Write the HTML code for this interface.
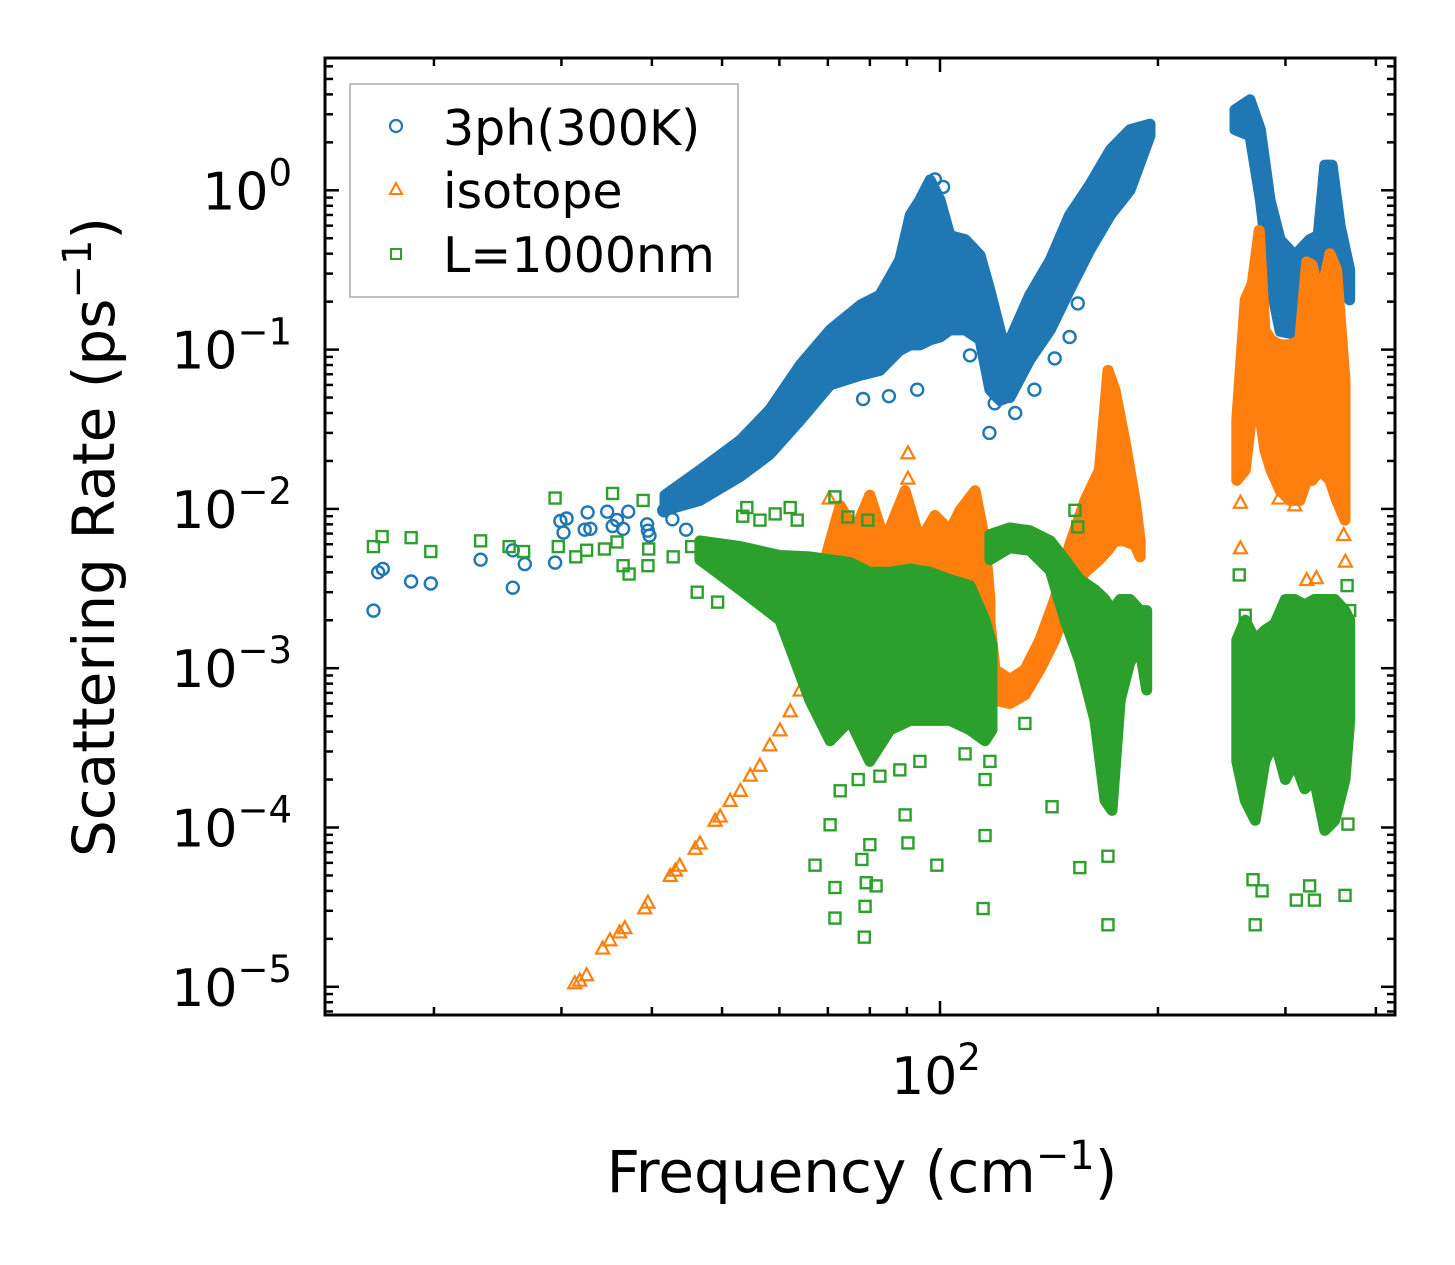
<!DOCTYPE html>
<html><head><meta charset="utf-8"><style>
html,body{margin:0;padding:0;background:#fff;}
svg{display:block;font-family:"DejaVu Sans","Liberation Sans",sans-serif;}
</style></head><body>
<svg id="chart" width="1455" height="1265" viewBox="0 0 1455 1265" xmlns="http://www.w3.org/2000/svg">
<rect width="1455" height="1265" fill="#fff"/>
<g id="marks"></g>
<g id="axes"></g>
<text x="862" y="1192" font-size="58" text-anchor="middle">Frequency (cm<tspan font-size="40" dy="-23">−1</tspan><tspan dy="23">)</tspan></text>
<text transform="translate(114,537) rotate(-90)" font-size="58" text-anchor="middle">Scattering Rate (ps<tspan font-size="40" dy="-23">−1</tspan><tspan dy="23">)</tspan></text>
<g>
<rect x="350" y="84" width="388" height="213" fill="#fff" stroke="#aaa" stroke-width="1.5"/>
<circle cx="396" cy="126" r="6" fill="none" stroke="#1f77b4" stroke-width="2.2"/>
<text x="443" y="145" font-size="49">3ph(300K)</text>
<polygon points="396,183 402,194 390,194" fill="none" stroke="#ff7f0e" stroke-width="2"/>
<text x="443" y="208" font-size="49">isotope</text>
<rect x="391" y="249" width="10" height="10" fill="none" stroke="#2ca02c" stroke-width="2"/>
<text x="443" y="272" font-size="49">L=1000nm</text>
</g>
</svg>
<script>
// ---- data (frequency cm^-1, rate ps^-1) ----
const blueBandAF=[41.7,46.6,53,58.2,64.1,70.5,77.6,82.6,88,91,93.8,96.9,100,103.2,108.4,113.6,117.2,121,124];
const blueBandAHi=[0.0122,0.0175,0.027,0.042,0.080,0.133,0.19,0.22,0.365,0.70,0.87,1.16,0.87,0.52,0.49,0.39,0.236,0.133,0.086];
const blueBandALo=[0.0098,0.0113,0.016,0.022,0.036,0.060,0.069,0.074,0.099,0.107,0.107,0.115,0.12,0.133,0.133,0.115,0.056,0.048,0.050];
const blueBandBF=[124.9,133,142,151,161,172,183,195];
const blueBandBHi=[0.115,0.22,0.365,0.70,1.08,1.8,2.4,2.6];
const blueBandBLo=[0.050,0.086,0.133,0.236,0.42,0.70,1.0,2.2];
const blueBandCF=[255.5,268,277,285.6,295,309,324,333,340,348,357,368];
const blueBandCHi=[3.2,3.7,2.4,0.87,0.49,0.39,0.49,0.52,1.44,1.44,0.6,0.316];
const blueBandCLo=[2.4,2.2,0.87,0.27,0.13,0.125,0.15,0.177,0.177,0.316,0.236,0.205];
const bluePtF=[16.5,16.75,17.0,18.6,19.8,23.2,25.7,25.7,26.7,29.4,29.9,30.2,30.5,32.3,32.6,32.9,34.7,35.3,35.8,36.5,37.1,39.4,39.7,39.5,41.6,42.7,44.6,78.3,85,93,117,127,110,119,135,144,151,155,98.4,101];
const bluePtV=[0.0023,0.0040,0.0042,0.0035,0.0034,0.0048,0.0032,0.0055,0.0045,0.0046,0.0084,0.0071,0.0087,0.0074,0.0095,0.0075,0.0096,0.0078,0.0085,0.0075,0.0096,0.0080,0.0068,0.0073,0.0098,0.0086,0.0074,0.049,0.051,0.056,0.030,0.040,0.092,0.046,0.056,0.088,0.12,0.195,1.17,1.05];

const orangeBandAF=[66.1,69.4,72.8,76.3,80,83.9,89.5,93.8,98.4,103.2,106.6,111.8,115.4,117.2];
const orangeBandAHi=[0.0015,0.0048,0.0105,0.0073,0.0122,0.0063,0.013,0.0063,0.0091,0.0073,0.0098,0.013,0.0063,0.0027];
const orangeBandALo=[0.00085,0.0013,0.0020,0.0027,0.0031,0.0036,0.0036,0.0036,0.0036,0.0033,0.0031,0.0027,0.002,0.0015];
const orangeBandBF=[116.4,119.1,124.9,131,137.4,144,151,158.6,166,170.6,174.4,180,186,189];
const orangeBandBHi=[0.0027,0.00098,0.00085,0.00098,0.0015,0.0027,0.0059,0.0113,0.0175,0.074,0.056,0.027,0.0113,0.0063];
const orangeBandBLo=[0.0017,0.00063,0.0006,0.00068,0.00098,0.0015,0.0027,0.0040,0.0048,0.0055,0.0063,0.0063,0.0059,0.0050];
const orangeBandCF=[257,264,270,276,281,286.6,295,304.4,314,321,326.5,335,345.6,353,362.6];
const orangeBandCHi=[0.036,0.205,0.26,0.56,0.133,0.115,0.107,0.107,0.115,0.355,0.34,0.205,0.40,0.316,0.064];
const orangeBandCLo=[0.0151,0.0175,0.042,0.042,0.0234,0.0175,0.013,0.0113,0.0113,0.0151,0.0151,0.0175,0.0151,0.0113,0.0085];
const orangePtF=[31.3,31.8,32.5,34.2,35.0,36.1,36.7,39.1,39.5,42.4,43.1,43.7,45.9,46.6,48.9,49.7,51.3,53.0,54.7,56.4,58.2,60.1,62.1,64.1,66.1,70.3,90.3,90.3,116.4,260,260,294,309,321,331,363,361];
const orangePtV=[1.06e-5,1.10e-5,1.19e-5,1.75e-5,1.97e-5,2.21e-5,2.35e-5,3.13e-5,3.4e-5,5.0e-5,5.4e-5,5.8e-5,7.4e-5,8.0e-5,1.11e-4,1.18e-4,1.48e-4,1.71e-4,2.13e-4,2.46e-4,3.3e-4,4.1e-4,5.4e-4,7.3e-4,1.04e-3,0.0117,0.0225,0.0156,0.00173,0.0057,0.011,0.0117,0.0106,0.0036,0.0037,0.0047,0.0069];

const greenBandAF=[46.6,53,60.1,66.1,70.5,75.1,80,85.3,91,96.9,103.2,110,115.4,118];
const greenBandAHi=[0.0063,0.0058,0.0051,0.0050,0.0048,0.0046,0.0040,0.0040,0.0042,0.0040,0.0036,0.0033,0.0020,0.0014];
const greenBandALo=[0.0048,0.0031,0.0020,0.00063,0.00035,0.00047,0.00026,0.00041,0.00047,0.00047,0.00047,0.00041,0.00035,0.00041];
const greenBandBF=[117.2,124.9,133,142,148.8,156,163.7,169,172.8,177.4,183,189,193];
const greenBandBHi=[0.0069,0.0076,0.0073,0.0063,0.0048,0.0036,0.0031,0.0027,0.0023,0.0027,0.0027,0.0023,0.0023];
const greenBandBLo=[0.0048,0.0057,0.0055,0.0041,0.0020,0.0011,0.00047,0.000148,0.000128,0.00063,0.0011,0.0013,0.00073];
const greenBandCF=[257,264,272.5,281,290,300,309,319,329,340,351,362.6,368];
const greenBandCHi=[0.0015,0.0020,0.0015,0.00173,0.0019,0.0027,0.0027,0.0025,0.0027,0.0027,0.0027,0.0023,0.0020];
const greenBandCLo=[0.00026,0.000148,0.000111,0.00026,0.00035,0.0002,0.00026,0.000175,0.0002,9.6e-5,0.000111,0.0002,0.00047];
const greenPtF=[16.5,16.96,18.6,19.8,23.2,25.4,26.6,29.4,29.7,31.4,32.5,35.3,34.4,35.8,36.5,37.2,38.9,39.5,39.6,42.8,45.4,46.2,49.3,54.1,53.4,62.1,63.5,67.2,70.5,71.6,71.6,78,79.1,78.6,78.8,80,81.6,89.5,90.3,99,114.7,115.4,131,142.8,156,170.6,170.6,270.6,272.5,278.5,310.6,324,329,362.6,366,259,264,368,365,71.6,74.6,79.5,56.4,59.2,139.6,153.6,155,72.8,77.1,82.6,88,93.8,108.3,115.4,117.2];
const greenPtV=[0.0058,0.0067,0.0066,0.0054,0.0063,0.0058,0.0054,0.0117,0.0058,0.0050,0.0055,0.0125,0.0056,0.0062,0.0044,0.0039,0.0113,0.0044,0.0056,0.0050,0.0058,0.0030,0.0026,0.0102,0.0090,0.0102,0.0085,5.8e-5,1.04e-4,4.2e-5,2.7e-5,6.3e-5,4.5e-5,2.05e-5,3.2e-5,7.8e-5,4.3e-5,1.2e-4,8.0e-5,5.8e-5,3.1e-5,8.9e-5,4.5e-4,1.35e-4,5.6e-5,2.45e-5,6.6e-5,4.7e-5,2.45e-5,4.0e-5,3.5e-5,4.3e-5,3.5e-5,3.75e-5,1.05e-4,0.00385,0.00215,0.0023,0.0033,0.0119,0.0089,0.0085,0.0085,0.0093,0.0059,0.0098,0.0077,1.7e-4,2.0e-4,2.1e-4,2.3e-4,2.6e-4,2.9e-4,2.0e-4,2.6e-4];

const xMajorTicks=[100];
const xMinorTicks=[20,30,40,50,60,70,80,90,200,300,400];
const yMajorExps=[0,-1,-2,-3,-4,-5];

// ---- scales ----
const X0=325,X1=1395,Y0=58,Y1=1015;
function X(f){return 940+724*Math.log10(f/100);}
function Y(v){return 190.3-159.3*Math.log10(v);}
const NS="http://www.w3.org/2000/svg";
const marks=document.getElementById('marks');
const axes=document.getElementById('axes');
function mk(tag,attrs,parent){const e=document.createElementNS(NS,tag);for(const k in attrs)e.setAttribute(k,attrs[k]);parent.appendChild(e);return e;}

const COL={blue:'#1f77b4',orange:'#ff7f0e',green:'#2ca02c'};
function band(F,Hi,Lo,color,name){
  const pts=[];
  for(let i=0;i<F.length;i++)pts.push(X(F[i]).toFixed(1)+','+Y(Hi[i]).toFixed(1));
  for(let i=F.length-1;i>=0;i--)pts.push(X(F[i]).toFixed(1)+','+Y(Lo[i]).toFixed(1));
  const p=mk('polygon',{points:pts.join(' '),fill:color,stroke:color,'stroke-width':11,'stroke-linejoin':'round'},marks);
  
  
}
function circles(F,V,name){
  for(let i=0;i<F.length;i++){
    const c=mk('circle',{cx:X(F[i]).toFixed(1),cy:Y(V[i]).toFixed(1),r:6,fill:'none',stroke:COL.blue,'stroke-width':2.4},marks);
    
    
  }
}
function tris(F,V,name){
  for(let i=0;i<F.length;i++){
    const x=X(F[i]),y=Y(V[i]);
    const t=mk('polygon',{points:`${x},${y-6.5} ${x+6.5},${y+5.5} ${x-6.5},${y+5.5}`,fill:'none',stroke:COL.orange,'stroke-width':2.2},marks);
    
    
  }
}
function squares(F,V,name){
  for(let i=0;i<F.length;i++){
    const x=X(F[i]),y=Y(V[i]);
    const s=mk('rect',{x:x-5.5,y:y-5.5,width:11,height:11,fill:'none',stroke:COL.green,'stroke-width':2.4},marks);
    
    
  }
}
band(blueBandAF,blueBandAHi,blueBandALo,COL.blue,'3ph-band-low');
band(blueBandBF,blueBandBHi,blueBandBLo,COL.blue,'3ph-band-mid');
band(blueBandCF,blueBandCHi,blueBandCLo,COL.blue,'3ph-band-high');
circles(bluePtF,bluePtV,'3ph-point');
band(orangeBandAF,orangeBandAHi,orangeBandALo,COL.orange,'isotope-band-low');
band(orangeBandBF,orangeBandBHi,orangeBandBLo,COL.orange,'isotope-band-mid');
band(orangeBandCF,orangeBandCHi,orangeBandCLo,COL.orange,'isotope-band-high');
tris(orangePtF,orangePtV,'isotope-point');
band(greenBandAF,greenBandAHi,greenBandALo,COL.green,'boundary-band-low');
band(greenBandBF,greenBandBHi,greenBandBLo,COL.green,'boundary-band-mid');
band(greenBandCF,greenBandCHi,greenBandCLo,COL.green,'boundary-band-high');
squares(greenPtF,greenPtV,'boundary-point');

// ---- axes ----
const frame=mk('rect',{x:X0,y:Y0,width:X1-X0,height:Y1-Y0,fill:'none',stroke:'#000','stroke-width':3},axes);


function line(x1,y1,x2,y2,name){
  const l=mk('line',{x1,y1,x2,y2,stroke:'#000','stroke-width':2.5},axes);
  
  
}
xMajorTicks.forEach(f=>{
  const x=X(f);
  line(x,Y1,x,Y1-14,'x-major-tick');line(x,Y0,x,Y0+14,'x-major-tick-top');
  const t=mk('text',{x:x-4,y:1094,'font-size':52,'text-anchor':'middle'},axes);
  
  
  t.innerHTML='10<tspan font-size="37" dy="-24">'+Math.round(Math.log10(f))+'</tspan>';
});
xMinorTicks.forEach(f=>{
  const x=X(f);
  line(x,Y1,x,Y1-8,'x-minor-tick');line(x,Y0,x,Y0+8,'x-minor-tick-top');
});
for(let e=-6;e<=1;e++){
  for(let k=1;k<=9;k++){
    const y=Y(k*Math.pow(10,e));
    if(y<Y0+1||y>Y1-1)continue;
    const len=k===1?14:8;
    line(X0,y,X0+len,y,k===1?'y-major-tick':'y-minor-tick');
    line(X1,y,X1-len,y,k===1?'y-major-tick-right':'y-minor-tick-right');
  }
}
yMajorExps.forEach(e=>{
  const y=Y(Math.pow(10,e));
  const t=mk('text',{x:292,y:y+19,'font-size':52,'text-anchor':'end'},axes);
  
  
  t.innerHTML='10<tspan font-size="37" dy="-24">'+(e===0?'0':'−'+(-e))+'</tspan>';
});
</script>
</body></html>
